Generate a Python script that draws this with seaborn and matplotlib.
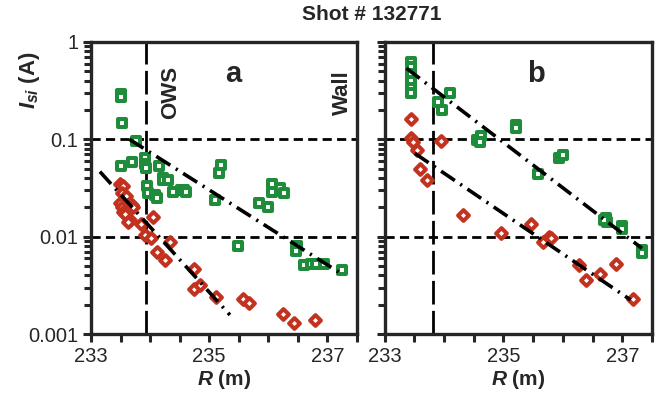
import numpy as np
import pandas as pd
import matplotlib
matplotlib.use("Agg")
import matplotlib.pyplot as plt
from matplotlib.ticker import FixedLocator, LogLocator, NullFormatter
import seaborn as sns

# panel a
a_green_r = [233.50, 233.50, 233.52, 233.76, 233.50, 233.69, 233.91, 233.91, 233.93, 233.94,
             233.96, 234.08, 234.11, 234.15, 234.21, 234.21, 234.30, 234.38, 234.53, 234.58,
             234.60, 235.09, 235.17, 235.20, 235.48, 235.85, 235.99, 236.07, 236.07, 236.19,
             236.27, 236.47, 236.49, 236.47, 236.61, 236.72, 236.80, 236.94, 237.25]
a_green_i = [0.29, 0.27, 0.146, 0.097, 0.053, 0.059, 0.064, 0.056, 0.051, 0.033,
             0.028, 0.027, 0.025, 0.053, 0.040, 0.038, 0.038, 0.029, 0.030, 0.030,
             0.029, 0.024, 0.045, 0.054, 0.0081, 0.022, 0.020, 0.035, 0.029, 0.032,
             0.028, 0.0077, 0.0080, 0.0072, 0.0051, 0.0052, 0.0053, 0.0053, 0.0045]
a_red_r = [233.49, 233.54, 233.52, 233.60, 233.49, 233.52, 233.54, 233.60, 233.57, 233.69,
           233.71, 233.66, 233.63, 233.85, 234.05, 233.91, 234.02, 234.11, 234.25, 234.33,
           234.75, 234.75, 234.84, 235.11, 235.57, 235.68, 236.24, 236.43, 236.79]
a_red_i = [0.035, 0.033, 0.028, 0.026, 0.022, 0.020, 0.018, 0.019, 0.017, 0.021,
           0.020, 0.015, 0.014, 0.0135, 0.016, 0.0105, 0.0096, 0.0070, 0.0057, 0.0088,
           0.0047, 0.0029, 0.0032, 0.0024, 0.0023, 0.0021, 0.0016, 0.0013, 0.0014]
a_green_fit_r = [233.65, 237.28]
a_green_fit_i = [0.100, 0.0040]
a_red_fit_r = [233.15, 235.35]
a_red_fit_i = [0.0466, 0.00157]

# panel b
b_green_r = [233.45, 233.45, 233.45, 233.45, 233.45, 233.45, 234.10, 233.90, 233.97, 234.55,
             234.62, 234.60, 235.21, 235.21, 235.59, 235.94, 236.00, 236.72, 236.75, 236.70,
             237.00, 237.00, 237.33, 237.33]
b_green_i = [0.63, 0.55, 0.47, 0.40, 0.34, 0.30, 0.30, 0.24, 0.20, 0.098,
             0.108, 0.094, 0.140, 0.130, 0.044, 0.064, 0.069, 0.0155, 0.0143, 0.0150,
             0.0130, 0.0120, 0.0073, 0.0068]
b_red_r = [233.45, 233.45, 233.48, 233.54, 233.95, 233.59, 233.72, 234.32, 234.96, 235.46,
           235.66, 235.77, 235.80, 236.27, 236.39, 236.62, 236.90, 237.18]
b_red_i = [0.16, 0.103, 0.095, 0.078, 0.096, 0.050, 0.038, 0.0167, 0.0108, 0.0135,
           0.0089, 0.0100, 0.0096, 0.0051, 0.0036, 0.0041, 0.0052, 0.0023]
b_green_fit_r = [233.37, 237.33]
b_green_fit_i = [0.537, 0.0076]
b_red_fit_r = [233.51, 237.14]
b_red_fit_i = [0.0718, 0.00224]

ows_a = 233.93
ows_b = 233.82
h_levels = [0.1, 0.01]

GREEN = '#1E8C3A'
RED = '#C3311F'

sns.set_style("ticks")
plt.rcParams['font.family'] = ['Liberation Sans', 'DejaVu Sans']
plt.rcParams['mathtext.fontset'] = 'custom'
plt.rcParams['mathtext.it'] = 'Liberation Sans:italic:bold'
plt.rcParams['mathtext.rm'] = 'Liberation Sans:bold'

fig = plt.figure(figsize=(6.61, 4.01), dpi=100)
ax_a = fig.add_axes([0.1377, 0.167, 0.4024, 0.7283])
ax_b = fig.add_axes([0.5817, 0.167, 0.4047, 0.7283])

fit_style = (0, (4.6, 1.8, 0.6, 1.8))

panels = [
    (ax_a, a_green_r, a_green_i, a_red_r, a_red_i,
     a_green_fit_r, a_green_fit_i, a_red_fit_r, a_red_fit_i, ows_a),
    (ax_b, b_green_r, b_green_i, b_red_r, b_red_i,
     b_green_fit_r, b_green_fit_i, b_red_fit_r, b_red_fit_i, ows_b),
]

for ax, gr, gi, rr, ri, gfr, gfi, rfr, rfi, ows in panels:
    ax.set_yscale('log')
    for lv in h_levels:
        ax.axhline(lv, color='k', lw=2.0, linestyle=(0, (3.3, 1.9)), zorder=1)
    ax.axvline(ows, color='k', lw=2.0, linestyle=(0, (8.5, 2.3)), zorder=1)

    sns.scatterplot(x=gr, y=gi, ax=ax, marker='s', s=34, facecolor='white',
                    edgecolor=GREEN, linewidth=2.9, zorder=3)
    sns.scatterplot(x=rr, y=ri, ax=ax, marker='D', s=30, facecolor='white',
                    edgecolor=RED, linewidth=2.9, zorder=3)
    sns.lineplot(x=gfr, y=gfi, ax=ax, color='k', lw=2.6, linestyle=fit_style, zorder=4)
    sns.lineplot(x=rfr, y=rfi, ax=ax, color='k', lw=2.6, linestyle=fit_style, zorder=4)

    ax.set_xlim(233, 237.5)
    ax.set_ylim(0.001, 1)
    ax.xaxis.set_major_locator(FixedLocator([233, 235, 237]))
    ax.xaxis.set_minor_locator(FixedLocator(np.arange(233, 237.51, 0.5)))
    ax.yaxis.set_major_locator(LogLocator(base=10, numticks=10))
    ax.yaxis.set_minor_locator(LogLocator(base=10, subs=np.arange(2, 10), numticks=10))
    ax.yaxis.set_minor_formatter(NullFormatter())
    ax.tick_params(axis='both', which='major', direction='out', length=6, width=2.2,
                   labelsize=14.5, pad=3)
    ax.tick_params(axis='both', which='minor', direction='out', length=5, width=2.2)
    ax.tick_params(axis='x', which='minor', length=6)
    for sp in ax.spines.values():
        sp.set_linewidth(2.4)
        sp.set_visible(True)
    ax.set_xlabel(r'$R$ (m)', fontsize=15, fontweight='bold', labelpad=2)
    ax.set_ylabel('')

ax_a.set_yticks([0.001, 0.01, 0.1, 1])
ax_a.set_yticklabels(['0.001', '0.01', '0.1', '1'])
ax_b.set_yticklabels([])
ax_b.tick_params(axis='y', which='both', labelleft=False)

ax_a.text(234.35, 0.30, 'OWS', rotation=90, fontsize=16, fontweight='bold',
          ha='center', va='center')
ax_a.text(237.25, 0.30, 'Wall', rotation=90, fontsize=16, fontweight='bold',
          ha='center', va='center')
ax_a.text(235.4, 0.47, 'a', fontsize=21, fontweight='bold', ha='center', va='center')
ax_b.text(235.55, 0.47, 'b', fontsize=21, fontweight='bold', ha='center', va='center')

fig.text(30 / 661, 1 - 80 / 401, r'$I_{si}$ (A)', rotation=90, fontsize=16,
         fontweight='bold', ha='center', va='center')
fig.text(372 / 661, 1 - 14 / 401, 'Shot # 132771', fontsize=15, fontweight='bold',
         ha='center', va='center')

fig.savefig('out.png', dpi=100)
